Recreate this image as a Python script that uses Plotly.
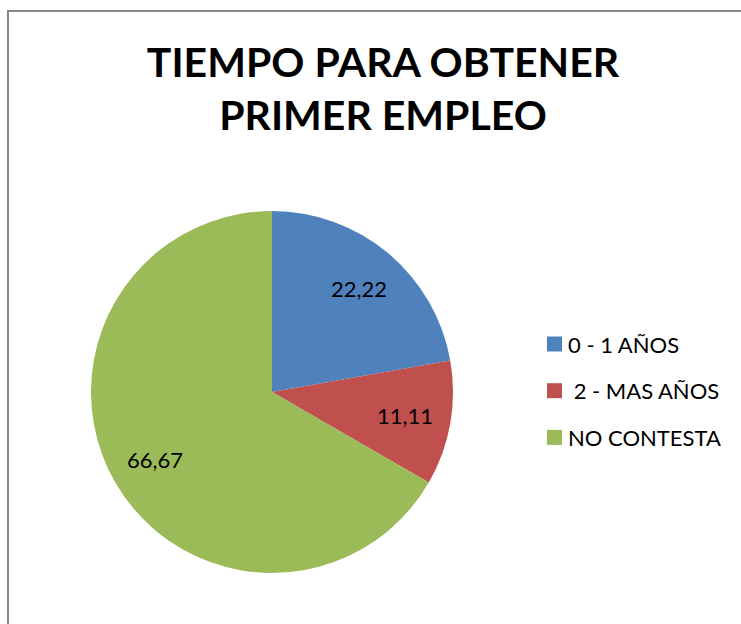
import math
import plotly.graph_objects as go

categories = ["0 - 1 AÑOS", " 2 - MAS AÑOS", "NO CONTESTA"]
values = [22.22, 11.11, 66.67]
value_labels = ["22,22", "11,11", "66,67"]
colors = ["#4F81BD", "#C0504D", "#9BBB59"]

W, H = 741, 624
# pie geometry (pixels)
CX, CY, R = 272, 392, 181

fig = go.Figure()
fig.add_trace(go.Pie(
    labels=categories,
    values=values,
    textinfo="none",
    marker=dict(colors=colors, line=dict(width=0)),
    sort=False,
    direction="clockwise",
    rotation=0,
    domain=dict(x=[(CX - R) / W, (CX + R) / W],
                y=[1 - (CY + R) / H, 1 - (CY - R) / H]),
    hoverinfo="label+value",
    showlegend=False,
))

annotations = []
# data labels at the middle angle of each slice
total = sum(values)
cum = 0.0
for v, lab in zip(values, value_labels):
    mid = (cum + v / 2) / total * 2 * math.pi
    cum += v
    px = CX + 0.745 * R * math.sin(mid)
    py = CY - 0.745 * R * math.cos(mid)
    annotations.append(dict(
        x=px / W, y=1 - py / H, xref="paper", yref="paper",
        text=lab, showarrow=False, xanchor="center", yanchor="middle",
        font=dict(family="Lato, sans-serif", size=22, color="black"),
    ))

# chart border
shapes = [dict(
    type="rect", xref="paper", yref="paper",
    x0=8 / W, x1=1.2, y0=-0.2, y1=1 - 11 / H,
    line=dict(color="#888888", width=2),
)]
# legend
LX, LY0, LDY, SQ = 547, 344, 46.7, 15
for i, (cat, col) in enumerate(zip(categories, colors)):
    yc = LY0 + i * LDY
    shapes.append(dict(
        type="rect", xref="paper", yref="paper",
        x0=LX / W, x1=(LX + SQ) / W,
        y0=1 - (yc + SQ / 2) / H, y1=1 - (yc - SQ / 2) / H,
        fillcolor=col, line=dict(width=0),
    ))
    annotations.append(dict(
        x=(LX + SQ + 4) / W, y=1 - yc / H, xref="paper", yref="paper",
        text=cat.replace(" ", "&nbsp;", 1) if cat.startswith(" ") else cat,
        showarrow=False, xanchor="left", yanchor="middle",
        font=dict(family="Lato, sans-serif", size=22, color="black"),
    ))

fig.update_layout(
    width=W, height=H,
    margin=dict(l=0, r=0, t=0, b=0),
    paper_bgcolor="white",
    plot_bgcolor="white",
    title=dict(
        text="TIEMPO PARA OBTENER<br>PRIMER EMPLEO",
        x=383 / W, xanchor="center",
        y=1 - 77 / H, yanchor="top",
        font=dict(family="Lato, sans-serif", size=41, color="black", weight="bold"),
    ),
    showlegend=False,
    shapes=shapes,
    annotations=annotations,
)

fig.write_html("out.html", config={"displayModeBar": False},
               post_script="document.body.style.margin='0';")
